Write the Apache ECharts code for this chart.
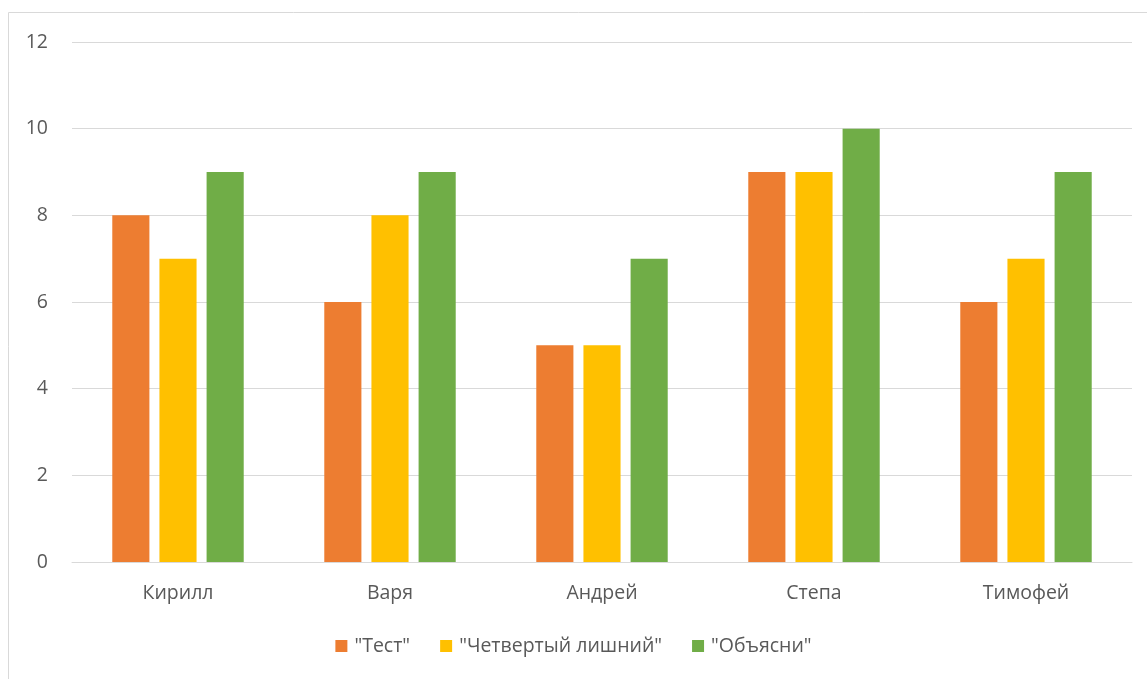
<!DOCTYPE html>
<html><head><meta charset="utf-8">
<script src="https://cdn.jsdelivr.net/npm/echarts@6/dist/echarts.min.js"></script>
<style>html,body{margin:0;padding:0;background:#fff}#c{width:1147px;height:679px}</style>
</head><body><div id="c"></div>
<script>
const categories = ['Кирилл', 'Варя', 'Андрей', 'Степа', 'Тимофей'];
const seriesNames = ['"Тест"', '"Четвертый лишний"', '"Объясни"'];
const testValues = [8, 6, 5, 9, 6];
const fourthValues = [7, 8, 5, 9, 7];
const explainValues = [9, 9, 7, 10, 9];
const colors = ['#ED7D31', '#FFC000', '#70AD47'];
const font = 'Open Sans, Liberation Sans, sans-serif';
const chart = echarts.init(document.getElementById('c'));
const mk = (name, data, color) => ({
  name, type: 'bar', data, itemStyle: { color },
  barGap: '27%', barCategoryGap: '38%'
});
chart.setOption({
  animation: false,
  textStyle: { fontFamily: font },
  graphic: [{ type: 'rect', shape: { x: 8.5, y: 12.5, width: 1300, height: 800 }, style: { fill: 'none', stroke: '#d9d9d9', lineWidth: 1 } }],
  grid: { left: 72, right: 15, top: 42, bottom: 117 },
  legend: {
    bottom: 18, left: 'center', itemWidth: 12, itemHeight: 12, itemGap: 30,
    icon: 'rect', textStyle: { color: '#595959', fontSize: 19.5, fontFamily: font, padding: [0, 0, 0, 2] },
    data: seriesNames
  },
  xAxis: {
    type: 'category', data: categories,
    axisLine: { lineStyle: { color: '#d9d9d9', width: 1 } },
    axisTick: { show: false },
    axisLabel: { color: '#595959', fontSize: 19.5, margin: 21, fontFamily: font }
  },
  yAxis: {
    type: 'value', min: 0, max: 12, interval: 2,
    axisLine: { show: false }, axisTick: { show: false },
    splitLine: { lineStyle: { color: '#d9d9d9', width: 1 } },
    axisLabel: { color: '#595959', fontSize: 19.5, margin: 24, fontFamily: font }
  },
  series: [
    mk(seriesNames[0], testValues, colors[0]),
    mk(seriesNames[1], fourthValues, colors[1]),
    mk(seriesNames[2], explainValues, colors[2])
  ]
});
</script></body></html>
